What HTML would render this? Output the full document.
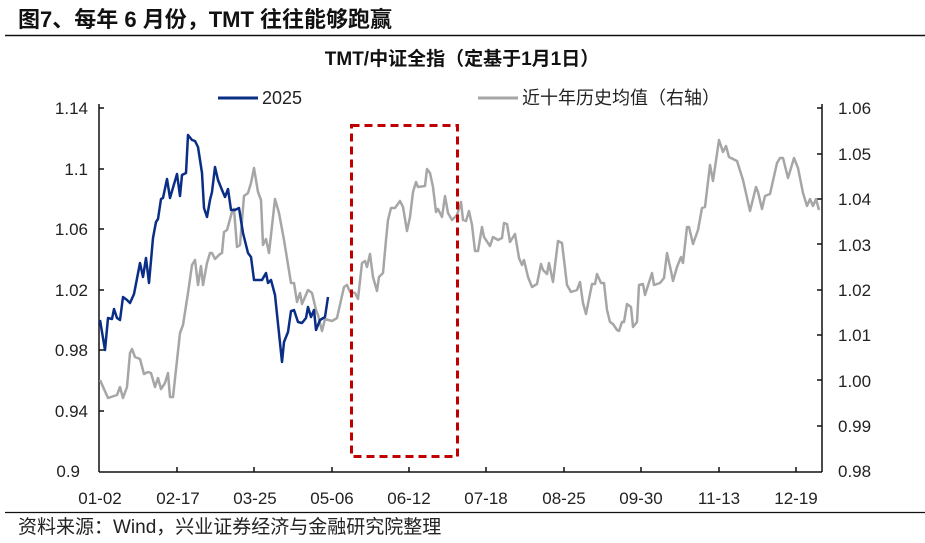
<!DOCTYPE html>
<html><head><meta charset="utf-8"><style>
html,body{margin:0;padding:0;background:#fff;width:925px;height:543px;overflow:hidden}
svg text{font-family:"Liberation Sans","Noto Sans CJK SC",sans-serif}
</style></head><body>
<svg width="925" height="543" viewBox="0 0 925 543" xmlns="http://www.w3.org/2000/svg">
<text x="18" y="27" font-size="22" font-weight="bold" fill="#111">图7、每年 6 月份，TMT 往往能够跑赢</text>
<line x1="5" y1="35.5" x2="925" y2="35.5" stroke="#111" stroke-width="1.5"/>
<text x="462" y="65" font-size="19" font-weight="bold" text-anchor="middle" fill="#111">TMT/中证全指（定基于1月1日）</text>
<line x1="218" y1="98" x2="258" y2="98" stroke="#0a2d86" stroke-width="3"/>
<text x="262" y="104" font-size="18" fill="#222">2025</text>
<line x1="478" y1="98" x2="518" y2="98" stroke="#a6a6a6" stroke-width="3"/>
<text x="522" y="104" font-size="18" fill="#222">近十年历史均值（右轴）</text>
<g font-size="17" fill="#222" text-anchor="end">
<text x="88" y="114">1.14</text><text x="88" y="175">1.1</text><text x="88" y="235">1.06</text><text x="88" y="296">1.02</text><text x="88" y="356">0.98</text><text x="88" y="417">0.94</text><text x="80" y="477">0.9</text>
</g>
<g font-size="17" fill="#222">
<text x="838" y="114">1.06</text><text x="838" y="160">1.05</text><text x="838" y="205">1.04</text><text x="838" y="251">1.03</text><text x="838" y="296">1.02</text><text x="838" y="341">1.01</text><text x="838" y="387">1.00</text><text x="838" y="432">0.99</text><text x="838" y="477">0.98</text>
</g>
<g font-size="17" fill="#222" text-anchor="middle">
<text x="100" y="504">01-02</text><text x="178" y="504">02-17</text><text x="255" y="504">03-25</text><text x="332" y="504">05-06</text><text x="409" y="504">06-12</text><text x="486" y="504">07-18</text><text x="564" y="504">08-25</text><text x="641" y="504">09-30</text><text x="719" y="504">11-13</text><text x="796" y="504">12-19</text>
</g>
<g stroke="#111" stroke-width="1.5">
<line x1="99" y1="104" x2="99" y2="472"/>
<line x1="822" y1="104" x2="822" y2="472"/>
<line x1="99" y1="472" x2="822" y2="472"/>
<path d="M99 108h5M99 169h5M99 229h5M99 290h5M99 350h5M99 411h5M822 108h-5M822 154h-5M822 199h-5M822 244h-5M822 290h-5M822 335h-5M822 380h-5M822 426h-5M177 472v-5M254 472v-5M332 472v-5M409 472v-5M486 472v-5M564 472v-5M641 472v-5M719 472v-5M796 472v-5"/>
</g>
<polyline fill="none" stroke="#a6a6a6" stroke-width="2.5" stroke-linejoin="round" points="100,380 108,398 117,395 120,387 123,398 127,387 130,353 132,349 135,357 140,359 144,374 148,372 151,373 155,387 158,378 161,389 165,383 168,373 170,397 173,397 180,333 183,325 188,293 192,265 195,260 198,285 201,266 203,285 207,263 210,253 212,253 215,259 220,254 222,253 224,232 227,230 232,212 234,209 237,247 240,245 244,196 248,193 251,183 254,168 258,192 261,200 263,245 266,239 269,253 275,199 279,213 284,240 291,283 294,283 297,302 300,293 302,304 308,290 312,293 316,310 318,315 322,331 325,319 332,321 337,318 344,287 347,285 350,292 355,293 358,299 362,263 365,261 367,267 370,254 373,277 377,291 379,277 383,273 386,240 388,220 391,208 395,208 400,201 403,207 407,231 410,217 413,192 416,182 418,187 425,186 427,169 430,173 433,187 436,212 438,209 442,217 445,196 448,213 452,220 457,215 461,202 463,220 466,221 469,211 472,225 475,251 478,251 482,227 484,237 490,246 493,237 498,240 502,238 504,223 507,224 510,242 515,234 519,258 522,265 524,260 528,277 532,287 537,284 541,264 543,270 547,274 549,263 553,282 558,241 562,243 567,285 571,292 577,290 580,282 583,303 586,314 592,284 595,284 597,274 601,283 604,283 607,310 610,322 613,324 617,330 619,331 622,322 624,322 627,304 631,307 633,327 637,322 639,285 643,284 645,295 652,273 654,285 660,283 664,278 667,253 671,271 673,281 677,267 681,257 683,263 687,227 689,227 693,244 698,230 702,208 705,207 710,165 713,181 719,140 723,152 726,146 729,157 733,159 737,161 743,180 750,211 756,187 758,192 762,209 765,196 770,194 777,163 780,158 783,158 788,178 794,158 798,168 803,193 807,206 810,199 813,206 816,199 819,210"/>
<polyline fill="none" stroke="#0a2d86" stroke-width="2.5" stroke-linejoin="round" points="100,320 105,350 108,318 112,319 114,309 117,318 120,320 123,297 127,300 130,303 134,294 140,263 143,277 146,258 149,283 153,238 156,222 158,219 161,199 163,198 167,179 170,198 177,174 180,196 182,175 186,173 188,135 192,140 195,141 198,147 202,173 204,208 207,217 210,200 212,192 215,167 218,180 222,190 225,197 228,189 231,210 235,210 239,208 243,233 248,253 251,257 254,280 262,280 266,273 268,283 271,280 275,295 282,362 284,342 288,332 291,311 294,310 298,322 302,323 306,318 308,307 311,317 314,310 316,330 320,320 325,317 328,297"/>
<rect x="351.5" y="125.5" width="106" height="331" fill="none" stroke="#c00000" stroke-width="3" stroke-dasharray="8,5"/>
<line x1="5" y1="512.5" x2="925" y2="512.5" stroke="#111" stroke-width="1.2"/>
<text x="18" y="533" font-size="19" fill="#222">资料来源：Wind，兴业证券经济与金融研究院整理</text>
</svg>
</body></html>
